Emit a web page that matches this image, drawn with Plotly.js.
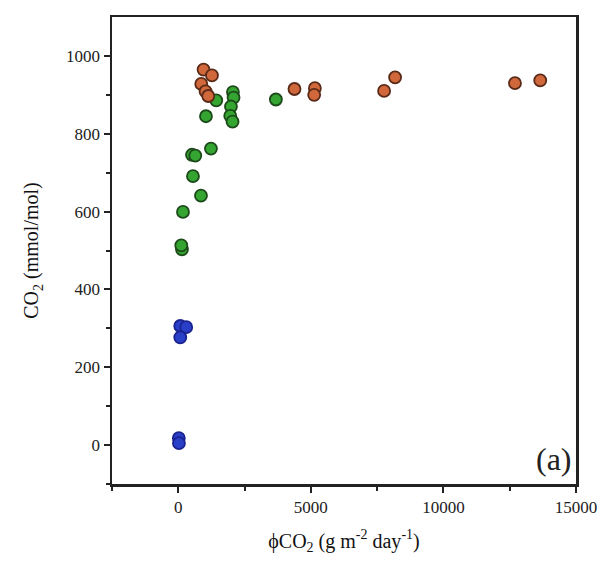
<!DOCTYPE html>
<html>
<head>
<meta charset="utf-8">
<script src="https://cdn.plot.ly/plotly-3.0.1.min.js"></script>
<style>html,body{margin:0;padding:0;background:#fff;}#chart{width:609px;height:572px;}</style>
</head>
<body>
<div id="chart"></div>
<script>
// Orange series
const orangeX = [953, 1270, 867, 1029, 1130, 4382, 5151, 5125, 7762, 8177, 12699, 13651];
const orangeY = [965, 950, 928, 909, 897, 915, 917, 900, 910, 945, 930, 937];
// Green series
const greenX = [1432, 2061, 2084, 1986, 1959, 2046, 1044, 3681, 516, 641, 1232, 554, 855, 177, 139, 113];
const greenY = [886, 907, 893, 870, 846, 831, 845, 888, 746, 744, 762, 691, 641, 599, 503, 513];
// Blue series
const blueX = [75, 300, 75, 20, 25];
const blueY = [306, 303, 277, 18, 5];

// Tick labels
const xTickVals = [0, 5000, 10000, 15000];
const xTickText = ["0", "5000", "10000", "15000"];
const yTickVals = [0, 200, 400, 600, 800, 1000];
const yTickText = ["0", "200", "400", "600", "800", "1000"];

const xTitle = "ϕCO<sub>2</sub> (g m<sup>-2</sup> day<sup>-1</sup>)";
const yTitle = "CO<sub>2</sub> (mmol/mol)";
const panelLabel = "(a)";

function series(x, y, fill, line) {
  return {
    x: x, y: y, type: 'scatter', mode: 'markers',
    marker: {size: 12, color: fill, line: {color: line, width: 1.8}},
    showlegend: false, hoverinfo: 'x+y'
  };
}

const data = [
  series(blueX, blueY, '#2a3fc8', '#1a2390'),
  series(greenX, greenY, '#35a532', '#1d4a1a'),
  series(orangeX, orangeY, '#d0683c', '#5a2a18')
];

const fam = 'Liberation Serif, Times New Roman, serif';

const layout = {
  width: 609, height: 572,
  margin: {l: 112, r: 33, t: 17, b: 88},
  paper_bgcolor: '#fff', plot_bgcolor: '#fff',
  font: {family: fam, color: '#222'},
  xaxis: {
    range: [-2500, 15000], tickvals: xTickVals, ticktext: xTickText,
    ticks: 'outside', ticklen: 6, tickwidth: 2, tickcolor: '#222',
    minor: {tickvals: [-2500, 2500, 7500, 12500], ticks: 'outside', ticklen: 4, tickwidth: 2, tickcolor: '#222'},
    showline: true, linecolor: '#222', linewidth: 2.5, mirror: true,
    showgrid: false, zeroline: false,
    tickfont: {family: fam, size: 17, color: '#222'},
    title: {text: xTitle, font: {family: fam, size: 20, color: '#111'}, standoff: 18}
  },
  yaxis: {
    range: [-100, 1100], tickvals: yTickVals, ticktext: yTickText,
    ticks: 'outside', ticklen: 6, tickwidth: 2, tickcolor: '#222',
    minor: {tickvals: [-100, 100, 300, 500, 700, 900], ticks: 'outside', ticklen: 4, tickwidth: 2, tickcolor: '#222'},
    showline: true, linecolor: '#222', linewidth: 2.5, mirror: true,
    showgrid: false, zeroline: false,
    tickfont: {family: fam, size: 17, color: '#222'},
    title: {text: yTitle, font: {family: fam, size: 20, color: '#111'}, standoff: 22}
  },
  annotations: [{
    text: panelLabel, xref: 'paper', yref: 'paper', x: 0.995, y: 0.01,
    xanchor: 'right', yanchor: 'bottom', showarrow: false,
    font: {family: fam, size: 32, color: '#222'}
  }]
};

Plotly.newPlot('chart', data, layout, {displayModeBar: false, staticPlot: true});
</script>
</body>
</html>
